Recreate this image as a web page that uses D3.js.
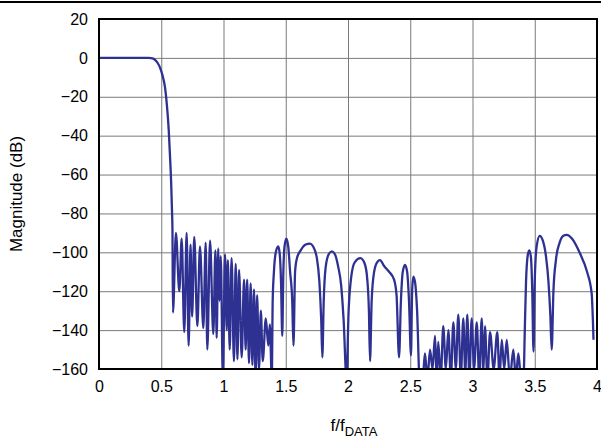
<!DOCTYPE html>
<html lang="en">
<head>
<meta charset="utf-8">
<title>Magnitude response</title>
<script src="https://d3js.org/d3.v7.min.js"></script>
<style>
  body { margin: 0; background: #fff; }
  text { font-family: "Liberation Sans", Arial, sans-serif; }
</style>
</head>
<body>
<script>
// normalised frequency f/fDATA
var freq = [
  0, 0.40, 0.43, 0.45, 0.47, 0.49, 0.51, 0.53, 0.545, 0.56, 0.57, 0.58, 0.586, 0.59,
  0.594, 0.618, 0.645, 0.664, 0.685, 0.704, 0.720, 0.735, 0.748, 0.765, 0.790, 0.811,
  0.838, 0.857, 0.870, 0.892, 0.918, 0.935, 0.945, 0.958, 0.968, 0.978, 0.995,
  1.012, 1.026, 1.035, 1.050, 1.065, 1.084, 1.098, 1.112, 1.125, 1.146, 1.165, 1.178,
  1.190, 1.205, 1.218, 1.232, 1.245, 1.258, 1.270, 1.285, 1.300, 1.315, 1.340, 1.360,
  1.372, 1.388,
  1.395, 1.405, 1.42, 1.44, 1.452, 1.462, 1.472,
  1.48, 1.49, 1.505, 1.52, 1.535, 1.552, 1.562,
  1.575, 1.59, 1.62, 1.66, 1.695, 1.72, 1.75, 1.77, 1.785, 1.794,
  1.805, 1.82, 1.845, 1.87, 1.895, 1.92, 1.945, 1.965, 1.988,
  2.005, 2.025, 2.055, 2.10, 2.135, 2.155, 2.168, 2.177,
  2.19, 2.21, 2.235, 2.257, 2.29, 2.33, 2.37, 2.39, 2.41,
  2.425, 2.44, 2.458, 2.475, 2.49, 2.506,
  2.515, 2.525, 2.54, 2.555, 2.575,
  2.60, 2.618, 2.638, 2.659, 2.679, 2.699, 2.712, 2.725, 2.745, 2.765, 2.786, 2.806,
  2.826, 2.846, 2.866, 2.886, 2.906, 2.926, 2.942, 2.958, 2.975, 2.993, 3.013, 3.034,
  3.054, 3.074, 3.087, 3.100, 3.120, 3.141, 3.170, 3.199, 3.217, 3.235, 3.255, 3.275,
  3.30, 3.328, 3.348, 3.368, 3.39,
  3.41, 3.42, 3.43, 3.445, 3.457, 3.47, 3.48, 3.49,
  3.50, 3.515, 3.54, 3.565, 3.59, 3.61, 3.625, 3.636,
  3.65, 3.67, 3.70, 3.73, 3.757, 3.80, 3.863, 3.92, 3.957, 3.967, 3.972
];

// magnitude in dB, same order as freq
var magDb = [
  0, 0, -0.2, -1, -2.5, -5, -9, -15, -24, -37, -50, -65, -78, -88,
  -131, -90, -120, -93, -141, -90, -148, -96, -133, -92, -138, -97,
  -139, -95, -150, -94, -142, -99, -144, -98, -125, -102, -165,
  -101, -140, -104, -150, -103, -156, -106, -155, -109, -154, -114, -150,
  -114, -157, -116, -158, -119, -165, -122, -160, -130, -156, -134, -148,
  -137, -165,
  -125, -110, -100, -97, -101, -115, -143,
  -112, -97, -93, -97, -110, -125, -148,
  -110, -103, -99, -96, -95.5, -97, -103, -115, -135, -154,
  -125, -108, -101, -99.5, -101, -107, -117, -135, -165,
  -130, -113, -105, -103, -106, -114, -130, -156,
  -125, -110, -105, -104, -107, -110, -114, -122, -154,
  -125, -110, -106.5, -110, -125, -153,
  -120, -112.5, -116, -130, -165,
  -165, -152, -165, -150, -160, -143, -165, -146, -165, -138, -160, -140,
  -165, -136, -160, -132, -165, -134, -162, -132, -165, -134, -160, -136,
  -165, -134, -162, -138, -165, -141, -160, -141, -165, -145, -160, -145,
  -165, -150, -165, -152, -165,
  -165, -140, -115, -101, -99, -103, -120, -151,
  -115, -97, -91.5, -94, -102, -115, -132, -150,
  -120, -104, -95, -91.5, -91, -93, -100.5, -110, -121, -135, -145
];

var xTicks = [0, 0.5, 1, 1.5, 2, 2.5, 3, 3.5, 4];
var yTicks = [20, 0, -20, -40, -60, -80, -100, -120, -140, -160];

var W = 601, H = 441;
var margin = {top: 19, right: 4, bottom: 72, left: 99};
var w = W - margin.left - margin.right;
var h = H - margin.top - margin.bottom;

var svg = d3.select("body").append("svg")
  .attr("width", W)
  .attr("height", H);

// rule across the top
svg.append("line")
  .attr("x1", 0).attr("x2", W)
  .attr("y1", 2).attr("y2", 2)
  .attr("stroke", "#000").attr("stroke-width", 2);

var g = svg.append("g").attr("transform", "translate(" + margin.left + "," + margin.top + ")");

var x = d3.scaleLinear().domain([0, 4]).range([0, w]);
var y = d3.scaleLinear().domain([-160, 20]).range([h, 0]);

function fmt(d) { return String(d).replace("-", "\u2212"); }

// grid
g.append("g").attr("class", "grid")
  .call(d3.axisBottom(x).tickValues(xTicks).tickSize(h).tickFormat(""))
  .call(function(s) { s.select(".domain").remove(); });
g.append("g").attr("class", "grid")
  .call(d3.axisLeft(y).tickValues(yTicks).tickSize(-w).tickFormat(""))
  .call(function(s) { s.select(".domain").remove(); });
g.selectAll(".grid line").attr("stroke", "#7a7a7a").attr("stroke-width", 1);

// axis labels
var xa = g.append("g").attr("transform", "translate(0," + h + ")")
  .call(d3.axisBottom(x).tickValues(xTicks).tickSize(0).tickPadding(12).tickFormat(fmt));
var ya = g.append("g")
  .call(d3.axisLeft(y).tickValues(yTicks).tickSize(0).tickPadding(11).tickFormat(fmt));
[xa, ya].forEach(function(a) {
  a.select(".domain").remove();
  a.selectAll("text").attr("font-size", 16).attr("fill", "#000")
    .attr("font-family", "'Liberation Sans', Arial, sans-serif");
});

// curve
g.append("clipPath").attr("id", "clip")
  .append("rect").attr("width", w).attr("height", h);

var pts = freq.map(function(f, i) { return [f, magDb[i]]; });
var line = d3.line()
  .x(function(d) { return x(d[0]); })
  .y(function(d) { return y(d[1]); })
  .curve(d3.curveMonotoneX);

g.append("path")
  .datum(pts)
  .attr("clip-path", "url(#clip)")
  .attr("fill", "none")
  .attr("stroke", "#2e3192")
  .attr("stroke-width", 2.3)
  .attr("stroke-linejoin", "round")
  .attr("d", line);

// frame
g.append("rect")
  .attr("width", w).attr("height", h)
  .attr("fill", "none").attr("stroke", "#000").attr("stroke-width", 2);

// titles
svg.append("text")
  .attr("transform", "translate(22," + (margin.top + h / 2) + ") rotate(-90)")
  .attr("text-anchor", "middle")
  .attr("font-size", 17)
  .text("Magnitude (dB)");

var xt = svg.append("text")
  .attr("x", margin.left + w / 2 + 6)
  .attr("y", 431)
  .attr("text-anchor", "middle")
  .attr("font-size", 17);
xt.append("tspan").text("f/f");
xt.append("tspan").attr("font-size", 13).attr("dy", 5).text("DATA");
</script>
</body>
</html>
